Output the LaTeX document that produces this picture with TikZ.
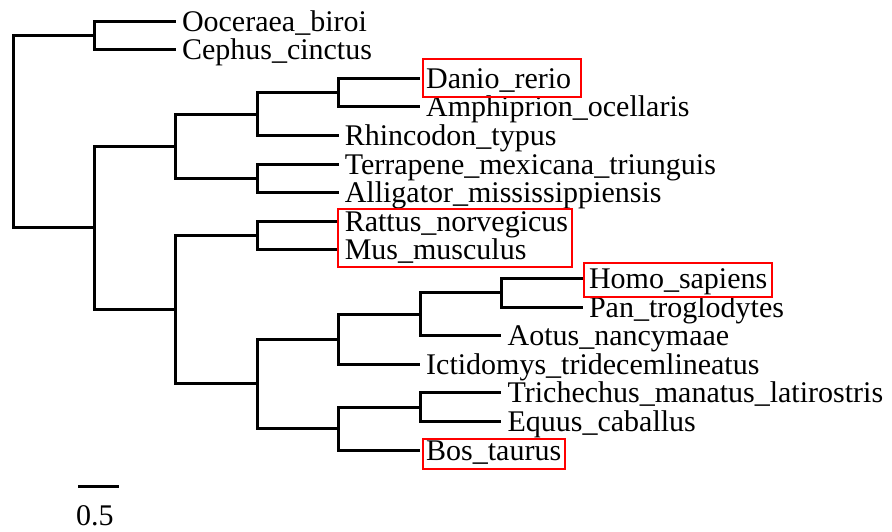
\documentclass[tikz,border=0pt]{standalone}
\usepackage{fontspec}
\setmainfont{Liberation Serif}
\begin{document}
\begin{tikzpicture}[x=1pt,y=-1pt,
  branch/.style={line width=3pt, line join=miter},
  leaf/.style={anchor=west, inner xsep=6pt, inner ysep=0pt, text height=20pt, text depth=0pt, font=\fontsize{30}{36}\selectfont},
  hl/.style={draw=red, line width=2.5pt}]
\useasboundingbox (0,0) rectangle (892,531);
% internal nodes
\coordinate (root) at (13,131.6);
\coordinate (nA) at (94.4,35.3);
\coordinate (nB) at (94.4,227.9);
\coordinate (nC) at (175.8,146.1);
\coordinate (nG) at (175.8,309.7);
\coordinate (nD) at (257.2,114);
\coordinate (nF) at (257.2,178.3);
\coordinate (nH) at (257.2,235.5);
\coordinate (nI) at (257.2,383.9);
\coordinate (nE) at (338.6,92.5);
\coordinate (nJ) at (338.6,339.2);
\coordinate (nM) at (338.6,428.6);
\coordinate (nK) at (420,314.2);
\coordinate (nN) at (420,407.1);
\coordinate (nL) at (501.4,292.7);
% leaves
\node[leaf] (oob) at (175.8,21) {Ooceraea\_biroi};
\node[leaf] (cci) at (175.8,49.6) {Cephus\_cinctus};
\node[leaf] (dre) at (420,78.2) {Danio\_rerio};
\node[leaf] (aoc) at (420,106.8) {Amphiprion\_ocellaris};
\node[leaf] (rty) at (338.6,135.4) {Rhincodon\_typus};
\node[leaf] (tmt) at (338.6,164) {Terrapene\_mexicana\_triunguis};
\node[leaf] (ami) at (338.6,192.6) {Alligator\_mississippiensis};
\node[leaf] (rno) at (338.6,221.2) {Rattus\_norvegicus};
\node[leaf] (mmu) at (338.6,249.8) {Mus\_musculus};
\node[leaf] (hsa) at (582.8,278.4) {Homo\_sapiens};
\node[leaf] (ptr) at (582.8,307) {Pan\_troglodytes};
\node[leaf] (ana) at (501.4,335.6) {Aotus\_nancymaae};
\node[leaf] (itr) at (420,364.2) {Ictidomys\_tridecemlineatus};
\node[leaf] (tml) at (501.4,392.8) {Trichechus\_manatus\_latirostris};
\node[leaf] (eca) at (501.4,421.4) {Equus\_caballus};
\node[leaf] (bta) at (420,450) {Bos\_taurus};
% branches
\draw[branch] (root) |- (nA);
\draw[branch] (root) |- (nB);
\draw[branch] (nA) |- (oob.west);
\draw[branch] (nA) |- (cci.west);
\draw[branch] (nB) |- (nC);
\draw[branch] (nB) |- (nG);
\draw[branch] (nC) |- (nD);
\draw[branch] (nC) |- (nF);
\draw[branch] (nD) |- (nE);
\draw[branch] (nD) |- (rty.west);
\draw[branch] (nE) |- (dre.west);
\draw[branch] (nE) |- (aoc.west);
\draw[branch] (nF) |- (tmt.west);
\draw[branch] (nF) |- (ami.west);
\draw[branch] (nG) |- (nH);
\draw[branch] (nG) |- (nI);
\draw[branch] (nH) |- (rno.west);
\draw[branch] (nH) |- (mmu.west);
\draw[branch] (nI) |- (nJ);
\draw[branch] (nI) |- (nM);
\draw[branch] (nJ) |- (nK);
\draw[branch] (nJ) |- (itr.west);
\draw[branch] (nK) |- (nL);
\draw[branch] (nK) |- (ana.west);
\draw[branch] (nL) |- (hsa.west);
\draw[branch] (nL) |- (ptr.west);
\draw[branch] (nM) |- (nN);
\draw[branch] (nM) |- (bta.west);
\draw[branch] (nN) |- (tml.west);
\draw[branch] (nN) |- (eca.west);
% highlight boxes
\draw[hl] (423,59) rectangle (581,97);
\draw[hl] (338,209) rectangle (572,267);
\draw[hl] (584,263) rectangle (772,297);
\draw[hl] (423,439) rectangle (565,469);
% scale bar
\coordinate (sb1) at (78,486);
\coordinate (sb2) at (119,486);
\draw[branch] (sb1) -- (sb2);
\node[anchor=base west, inner sep=0pt, font=\fontsize{30}{36}\selectfont] (sblab) at (76,525) {0.5};
\end{tikzpicture}
\end{document}
